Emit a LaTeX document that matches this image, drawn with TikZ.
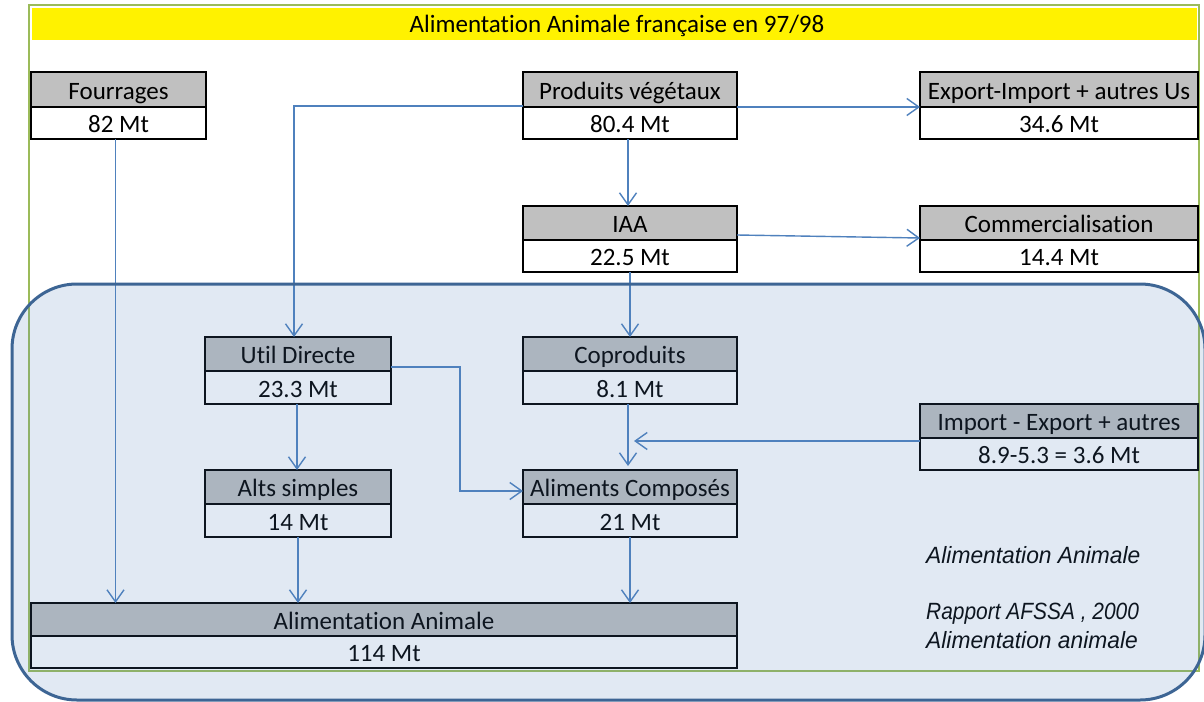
\documentclass[tikz,border=0pt]{standalone}
\usepackage{fontspec}
\setmainfont{Carlito}[Ligatures={NoCommon}]
\newfontfamily\arialf{Liberation Sans}
\usetikzlibrary{arrows.meta,calc}
\definecolor{obl}{HTML}{4F81BD}
\definecolor{frameg}{HTML}{9BBB59}
\definecolor{edgeb}{HTML}{3D6594}
\definecolor{hdrgray}{HTML}{C0C0C0}
\tikzset{
  boxtxt/.style={inner sep=0pt, outer sep=0pt, font=\fontsize{25}{29}\selectfont, text height=19pt, text depth=0pt},
  hdr/.style={boxtxt, draw=black, line width=1.8pt, fill=hdrgray},
  valc/.style={boxtxt, draw=black, line width=1.8pt, fill=white},
  arr/.style={draw=obl, line width=1.4pt, -{Straight Barb[length=12pt,width=17pt,line width=1.4pt]}},
  note/.style={font=\arialf\itshape\fontsize{23.5}{29}\selectfont, anchor=west, align=left, inner sep=0pt}
}
\newcommand\dbox[8]{%
  \node[hdr, minimum width=#4pt, minimum height=#5pt, anchor=north west] (#1) at (#2,#3) {#7};
  \node[valc, minimum width=#4pt, minimum height=#6pt, anchor=north west] (#1v) at (#1.south west) {#8};}
\begin{document}
\begin{tikzpicture}[x=1pt,y=-1pt]
\useasboundingbox (0,0) rectangle (1204,701);
\fill[white] (0,0) rectangle (1204,701);
% outer frame
\draw[frameg, line width=2pt] (29,5) rectangle (1199,671);
\fill[yellow] (32,8) rectangle (1197,40);
\node[font=\fontsize{25}{29}\selectfont, inner sep=0pt, text height=18pt, text depth=0pt] (title) at (617,24) {Alimentation Animale française en 97/98};
% boxes
\dbox{fou}{31}{72}{175}{35}{32}{Fourrages}{82 Mt}
\dbox{prod}{523}{72}{214}{35}{32}{Produits végétaux}{80.4 Mt}
\dbox{exp}{920}{72}{278}{35}{32}{Export-Import + autres Us}{34.6 Mt}
\dbox{iaa}{523}{206}{214}{34}{32}{IAA}{22.5 Mt}
\dbox{com}{920}{206}{278}{34}{32}{Commercialisation}{14.4 Mt}
\dbox{util}{205}{337}{186}{34}{33}{Util Directe}{23.3 Mt}
\dbox{cop}{523}{337}{214}{34}{33}{Coproduits}{8.1 Mt}
\dbox{imp}{920}{404}{278}{34}{32}{Import - Export + autres}{8.9-5.3 = 3.6 Mt}
\dbox{alts}{205}{470}{186}{34}{33}{Alts simples}{14 Mt}
\dbox{alc}{523}{470}{214}{34}{33}{Aliments Composés}{21 Mt}
\dbox{ali}{31}{603}{706}{33}{32}{Alimentation Animale}{114 Mt}
% arrows
\draw[arr] ([xshift=-3pt]fouv.south) coordinate (f1) -- (f1 |- ali.north);
\draw[arr] ([yshift=1pt]prod.south west) -| ([xshift=-4pt]util.north);
\draw[arr] (prod.south east) -- (exp.south west);
\draw[arr] ([xshift=-2pt]prodv.south) -- ([xshift=-2pt]iaa.north);
\draw[arr] ([yshift=5pt]iaa.south east) -- ([yshift=2pt]com.south west);
\draw[arr] (iaav.south) -- (cop.north);
\draw[arr] ([yshift=4pt]util.south east) -- ++(69,0) |- ([yshift=-4pt]alc.west);
\draw[arr] ([xshift=-1pt]utilv.south) -- ([xshift=-1pt]alts.north);
\draw[arr] ([xshift=-2pt]copv.south) -- ([xshift=-2pt,yshift=4pt]alc.north);
\coordinate (ie) at (634,441);
\draw[arr] (imp.south west |- ie) -- (ie);
\draw[arr] (altsv.south) -- (altsv.south |- ali.north);
\draw[arr] (alcv.south) -- (alcv.south |- ali.north);
% notes
\node[note] (n1) at (926,555) {\scalebox{0.97}[1]{Alimentation Animale}};
\node[note] (n2) at (926,626) {\scalebox{0.89}[1]{Rapport AFSSA , 2000}\\\scalebox{0.97}[1]{Alimentation animale}};
% blue overlay
\fill[obl, fill opacity=0.17, rounded corners=65pt] (12,284) rectangle (1205,700);
\draw[edgeb, line width=3pt, rounded corners=65pt] (12,284) rectangle (1205,700);
\end{tikzpicture}
\end{document}
